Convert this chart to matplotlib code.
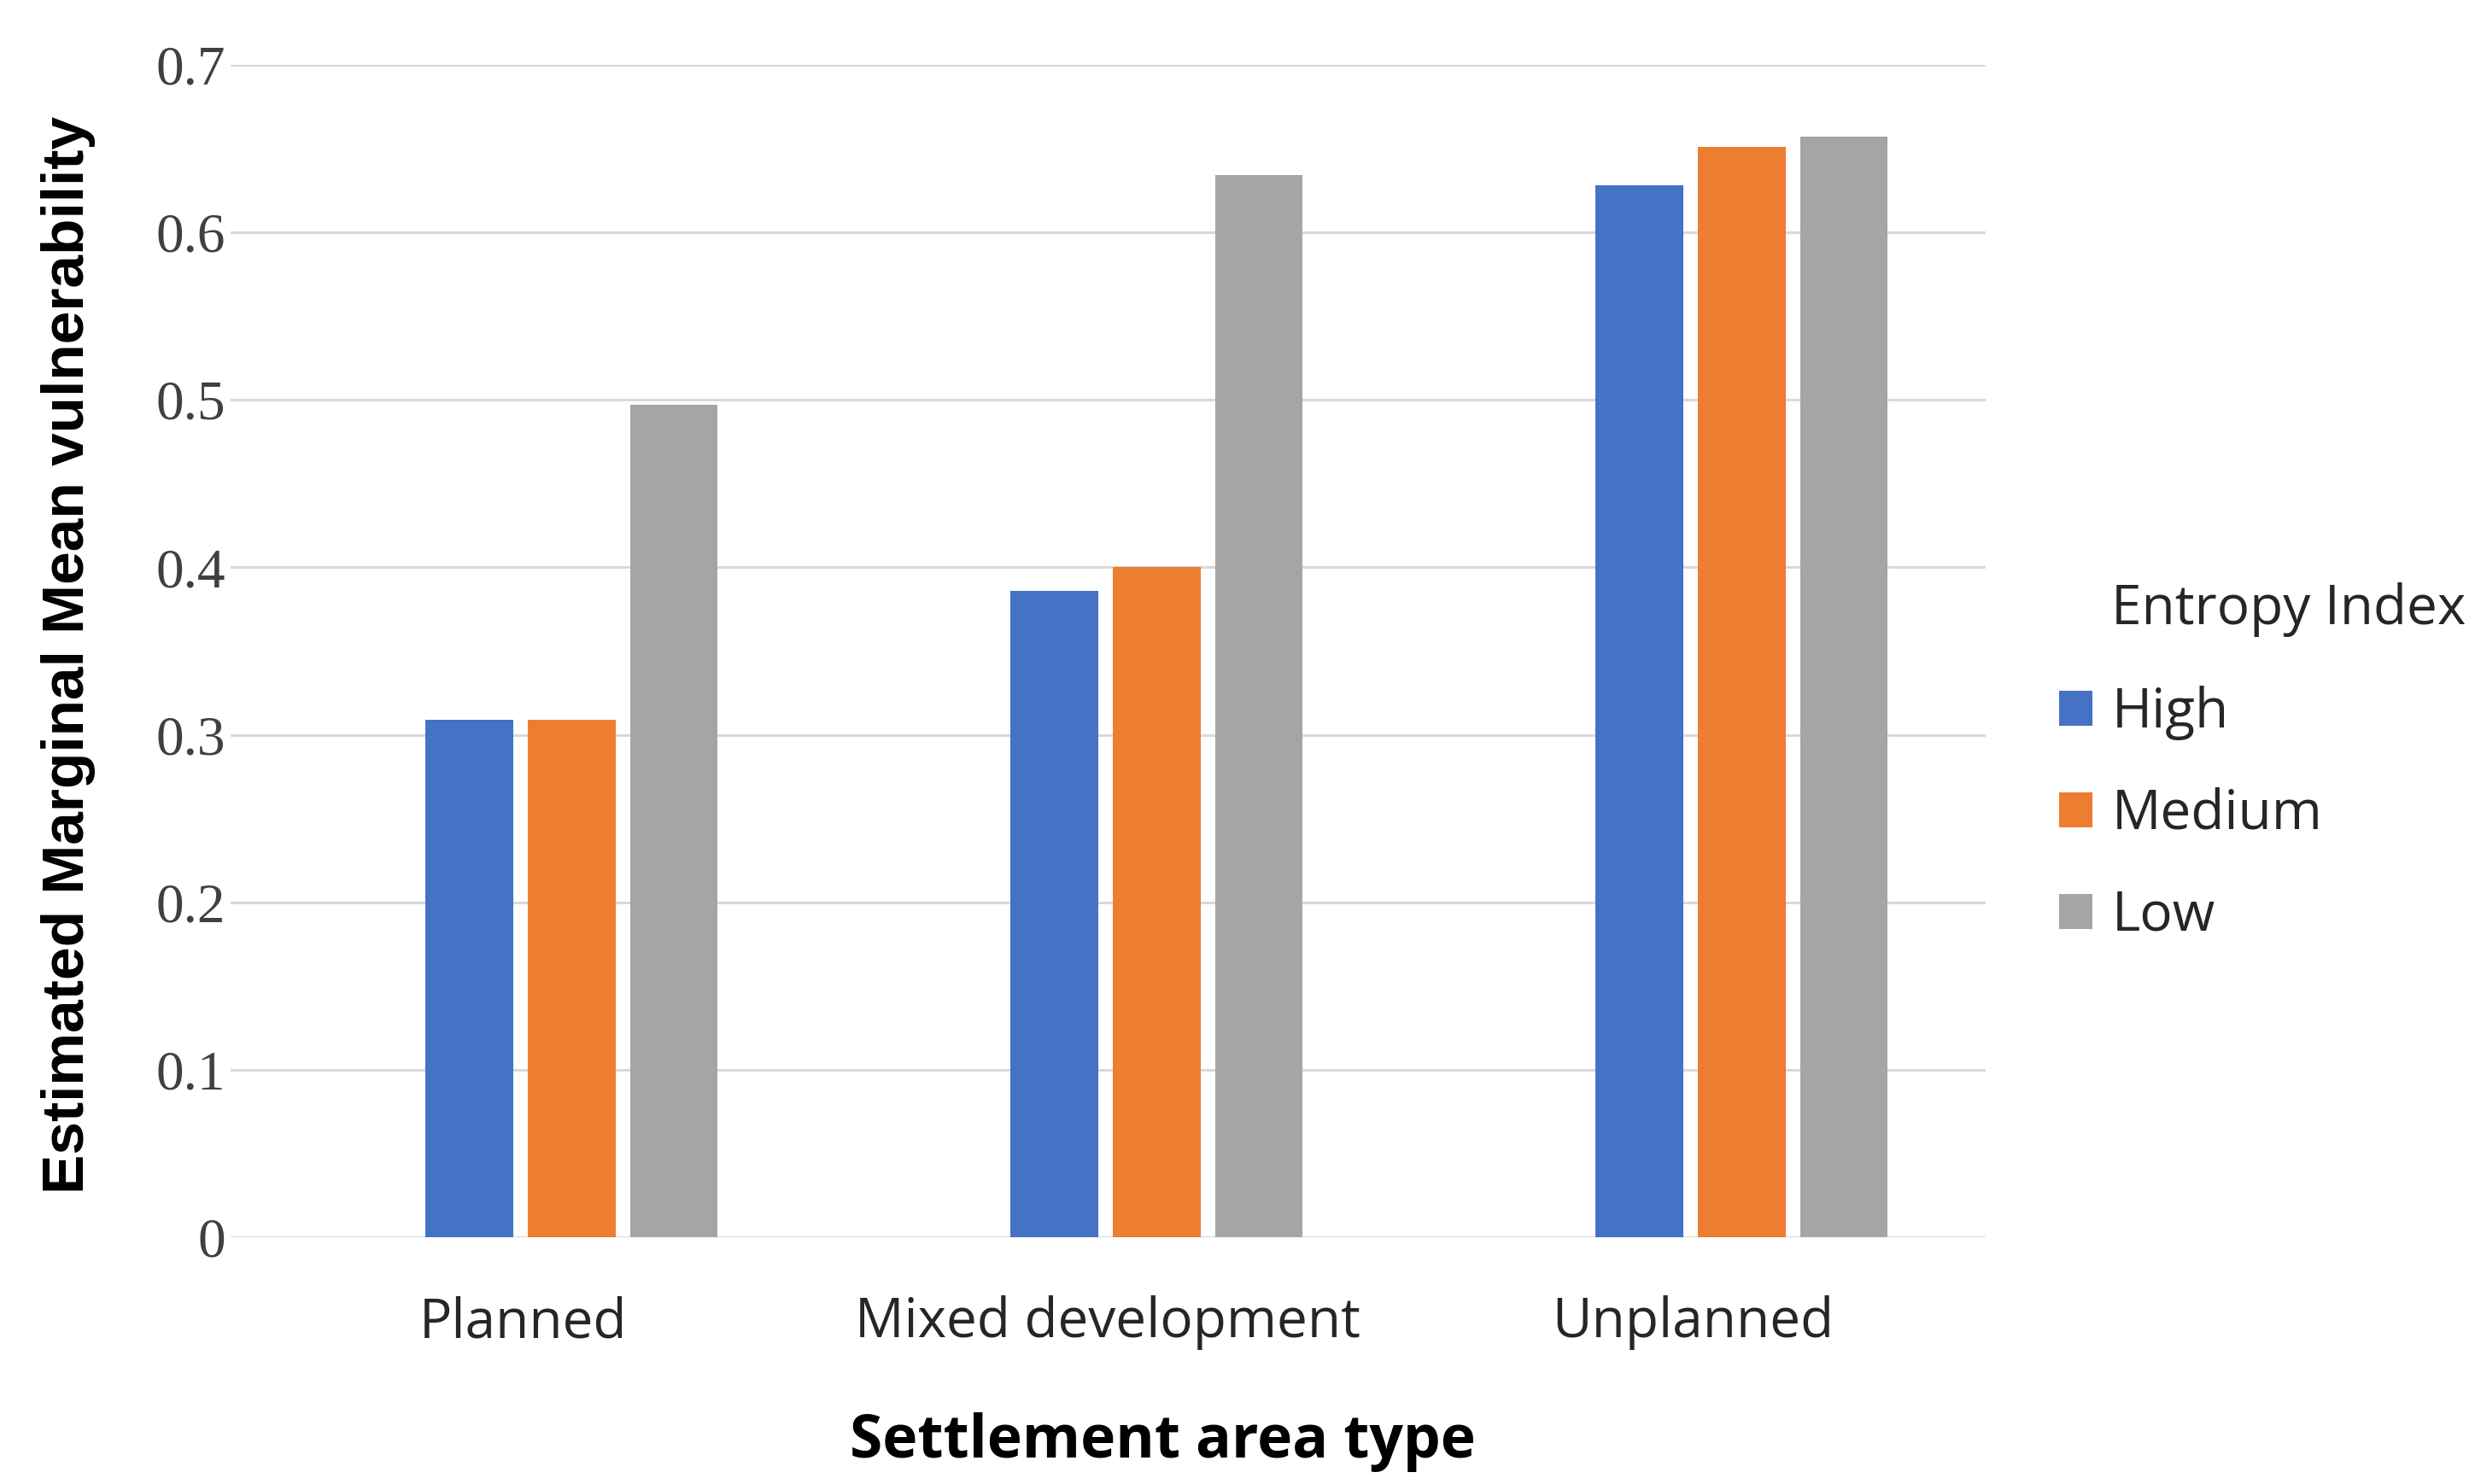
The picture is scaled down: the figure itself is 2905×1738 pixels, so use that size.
import matplotlib
matplotlib.use("Agg")
import matplotlib.pyplot as plt
import numpy as np

categories = ["Planned", "Mixed development", "Unplanned"]
series_names = ["High", "Medium", "Low"]
high = [0.309, 0.386, 0.628]
medium = [0.309, 0.400, 0.651]
low = [0.497, 0.634, 0.657]
yticks = [0, 0.1, 0.2, 0.3, 0.4, 0.5, 0.6, 0.7]
ytick_labels = ["0", "0.1", "0.2", "0.3", "0.4", "0.5", "0.6", "0.7"]
colors = ["#4472C4", "#ED7D31", "#A5A5A5"]

fig = plt.figure(figsize=(29.05, 17.38), dpi=100)
ax = fig.add_axes([0.0929, 0.1663, 0.7074, 0.79])

x = np.arange(len(categories))
shift = 0.083
width = 0.15
step = 0.175
handles = []
for k, (vals, name, c) in enumerate(zip([high, medium, low], series_names, colors)):
    b = ax.bar(x + shift + (k - 1) * step, vals, width=width, color=c, label=name, zorder=3)
    handles.append(b)

ax.set_xlim(-0.5, 2.5)
ax.set_ylim(0, 0.7)
ax.set_yticks(yticks)
ax.set_yticklabels(ytick_labels, fontfamily="Liberation Serif", fontsize=47, color="#404040")
ax.set_xticks(x)
ax.set_xticklabels(categories, fontfamily="Open Sans", fontsize=46, color="#262626")
ax.tick_params(axis="both", length=0)
ax.tick_params(axis="y", pad=4)
ax.tick_params(axis="x", pad=49)
ax.grid(axis="y", color="#D9D9D9", linewidth=2.2, zorder=0)
for s in ax.spines.values():
    s.set_visible(False)

ax.set_ylabel("Estimated Marginal Mean vulnerability", fontfamily="Liberation Sans",
              fontweight="bold", fontsize=50, color="black")
ax.yaxis.set_label_coords(-0.077, 0.497)
ax.set_xlabel("Settlement area type", fontfamily="Open Sans", fontweight="bold",
              fontsize=50, color="black")
ax.xaxis.set_label_coords(0.531, -0.149)

fig.text(0.851, 0.589, "Entropy Index", fontfamily="Open Sans", fontsize=46,
         color="#262626", va="center", ha="left")
leg = fig.legend(handles=handles, labels=series_names, loc="upper left",
                 bbox_to_anchor=(0.830, 0.538), frameon=False,
                 prop={"family": "Open Sans", "size": 46},
                 handlelength=0.61, handleheight=0.61, handletextpad=0.35,
                 labelspacing=0.86, borderaxespad=0, borderpad=0)
for t in leg.get_texts():
    t.set_color("#262626")

fig.savefig("out.png", dpi=100, facecolor="white")
